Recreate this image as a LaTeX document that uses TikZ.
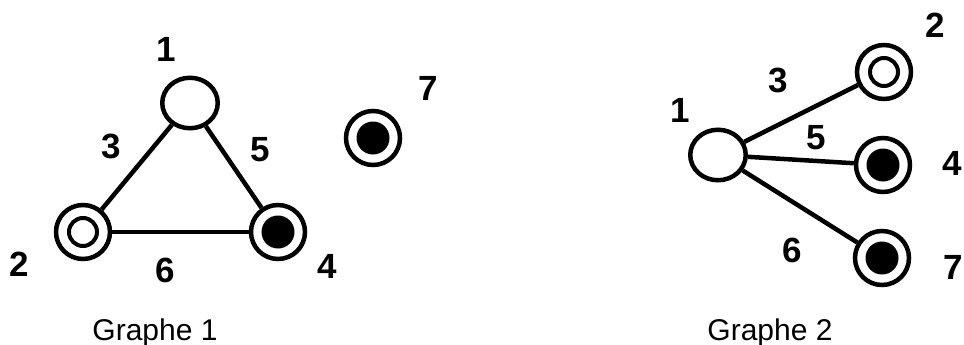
\documentclass[tikz,border=0pt]{standalone}
\usepackage{fontspec}
\setmainfont{Liberation Sans}
\usetikzlibrary{shapes.geometric}
\begin{document}
\begin{tikzpicture}[x=1pt,y=-1pt,
  vplain/.style={draw,ellipse,line width=4.5pt,minimum width=55.5pt,minimum height=50.5pt,inner sep=0pt,fill=white},
  vdbl/.style={draw,circle,line width=4.5pt,minimum size=54pt,inner sep=0pt,fill=white},
  conn/.style={line width=4.5pt},
  num/.style={font=\fontsize{35}{35}\selectfont\bfseries,inner sep=0pt},
  captext/.style={font=\fontsize{30}{30}\selectfont,inner sep=0pt,anchor=base}]
\useasboundingbox (0,0) rectangle (964,345);
% Graphe 1
\node[vplain] (a1) at (190,103) {};
\node[vdbl] (a2) at (83,232) {};
\node[vdbl] (a4) at (278,232) {};
\node[vdbl] (a7) at (373,138) {};
\draw[conn] (a1) -- (a2);
\draw[conn] (a1) -- (a4);
\draw[conn] (a2) -- (a4);
\draw[line width=4pt] (a2.center) circle (14pt);
\fill (a4.center) circle (16.5pt);
\fill (a7.center) circle (16.5pt);
\node[num] (l1) at (166,49) {1};
\node[num] (l3) at (111,146) {3};
\node[num] (l5) at (260,150) {5};
\node[num] (l6) at (165,270) {6};
\node[num] (l4) at (327,266) {4};
\node[num] (l2) at (19,264) {2};
\node[num] (l7) at (428,88) {7};
\node[captext] (g1) at (155,340) {Graphe 1};
% Graphe 2
\node[vplain] (b1) at (718,155) {};
\node[vdbl] (b2) at (884,72) {};
\node[vdbl] (b4) at (883,165) {};
\node[vdbl] (b7) at (882,258) {};
\draw[conn] (b1) -- (b2);
\draw[conn] (b1) -- (b4);
\draw[conn] (b1) -- (b7);
\draw[line width=4pt] (b2.center) circle (14pt);
\fill (b4.center) circle (16.5pt);
\fill (b7.center) circle (16.5pt);
\node[num] (m2) at (935,25) {2};
\node[num] (m3) at (778,80) {3};
\node[num] (m1) at (680,110) {1};
\node[num] (m5) at (816,138) {5};
\node[num] (m4) at (952,163) {4};
\node[num] (m6) at (792,250) {6};
\node[num] (m7) at (953,267) {7};
\node[captext] (g2) at (770,340) {Graphe 2};
\end{tikzpicture}
\end{document}
